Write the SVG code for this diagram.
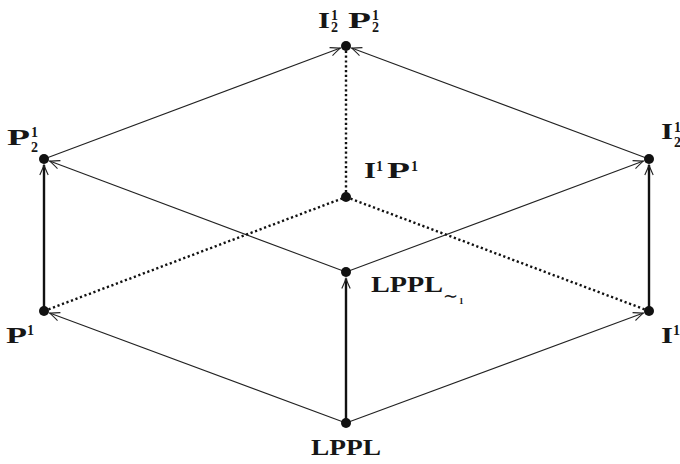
<svg xmlns="http://www.w3.org/2000/svg" width="680" height="464" viewBox="0 0 680 464">
<style>
.thin{stroke:#222;stroke-width:1.1;fill:none}
.thick{stroke:#111;stroke-width:2.4;fill:none}
.dot{stroke:#111;stroke-width:2.4;fill:none;stroke-dasharray:2.2 2.6}
.node{fill:#111}
.lbl{font-family:"Liberation Serif","Times New Roman",serif;font-weight:bold;font-size:23px;fill:#161616}
.sc{font-size:14px}
.tl{font-size:18px;font-weight:normal}
.ssc{font-size:9px}
</style>
<defs>
<marker id="ar" viewBox="-12 -6 14 12" refX="0" refY="0" markerWidth="14" markerHeight="12" markerUnits="userSpaceOnUse" orient="auto">
<path d="M-10,-4.2 Q-3.5,-1.2 0,0 Q-3.5,1.2 -10,4.2" fill="none" stroke="#222" stroke-width="1.1"/>
</marker>
</defs>
<g id="connectors">
<line class="thin" x1="346" y1="423" x2="49.6" y2="313.1" marker-end="url(#ar)"/>
<line class="thin" x1="346" y1="423" x2="643.4" y2="313.1" marker-end="url(#ar)"/>
<line class="thick" x1="346" y1="423" x2="346" y2="278.5" marker-end="url(#ar)"/>
<line class="thick" x1="44" y1="311" x2="44" y2="165" marker-end="url(#ar)"/>
<line class="thick" x1="649" y1="311" x2="649" y2="165" marker-end="url(#ar)"/>
<line class="thin" x1="346" y1="272" x2="49.6" y2="161.1" marker-end="url(#ar)"/>
<line class="thin" x1="346" y1="272" x2="643.4" y2="161.1" marker-end="url(#ar)"/>
<line class="thin" x1="44" y1="159" x2="340.4" y2="48.1" marker-end="url(#ar)"/>
<line class="thin" x1="649" y1="159" x2="351.6" y2="48.1" marker-end="url(#ar)"/>
<line class="dot" x1="44" y1="311" x2="346" y2="197"/>
<line class="dot" x1="346" y1="197" x2="649" y2="311"/>
<line class="dot" x1="346" y1="197" x2="346" y2="46"/>
</g>
<g id="n-top">
<circle class="node" cx="346" cy="46" r="5"/>
<text class="lbl"><tspan x="318" y="28" textLength="12" lengthAdjust="spacingAndGlyphs">I</tspan><tspan class="sc" x="331" y="20">1</tspan><tspan class="sc" x="331" y="31.5">2</tspan><tspan x="348" y="28" textLength="23" lengthAdjust="spacingAndGlyphs">P</tspan><tspan class="sc" x="372" y="20">1</tspan><tspan class="sc" x="372" y="31.5">2</tspan></text>
</g>
<g id="n-P21">
<circle class="node" cx="44" cy="159" r="5"/>
<text class="lbl"><tspan x="7" y="145" textLength="23" lengthAdjust="spacingAndGlyphs">P</tspan><tspan class="sc" x="31" y="137">1</tspan><tspan class="sc" x="31" y="152">2</tspan></text>
</g>
<g id="n-I21">
<circle class="node" cx="649" cy="159" r="5"/>
<text class="lbl"><tspan x="661" y="139" textLength="12" lengthAdjust="spacingAndGlyphs">I</tspan><tspan class="sc" x="674" y="132">1</tspan><tspan class="sc" x="674" y="147">2</tspan></text>
</g>
<g id="n-I1P1">
<circle class="node" cx="346" cy="197" r="5"/>
<text class="lbl"><tspan x="364" y="178" textLength="12" lengthAdjust="spacingAndGlyphs">I</tspan><tspan class="sc" x="376" y="171">1</tspan><tspan x="387" y="178" textLength="23" lengthAdjust="spacingAndGlyphs">P</tspan><tspan class="sc" x="411" y="171">1</tspan></text>
</g>
<g id="n-LPPL1">
<circle class="node" cx="346" cy="272" r="5"/>
<text class="lbl"><tspan x="371" y="292" textLength="72" lengthAdjust="spacingAndGlyphs">LPPL</tspan><tspan class="tl" x="443" y="302">∼</tspan><tspan class="ssc" x="459" y="304">1</tspan></text>
</g>
<g id="n-P1">
<circle class="node" cx="44" cy="311" r="5"/>
<text class="lbl"><tspan x="6" y="343" textLength="21" lengthAdjust="spacingAndGlyphs">P</tspan><tspan class="sc" x="27" y="335">1</tspan></text>
</g>
<g id="n-I1">
<circle class="node" cx="649" cy="311" r="5"/>
<text class="lbl"><tspan x="661" y="343" textLength="12" lengthAdjust="spacingAndGlyphs">I</tspan><tspan class="sc" x="673" y="335">1</tspan></text>
</g>
<g id="n-LPPL">
<circle class="node" cx="346" cy="423" r="5"/>
<text class="lbl"><tspan x="311" y="455" textLength="70" lengthAdjust="spacingAndGlyphs">LPPL</tspan></text>
</g>
</svg>
